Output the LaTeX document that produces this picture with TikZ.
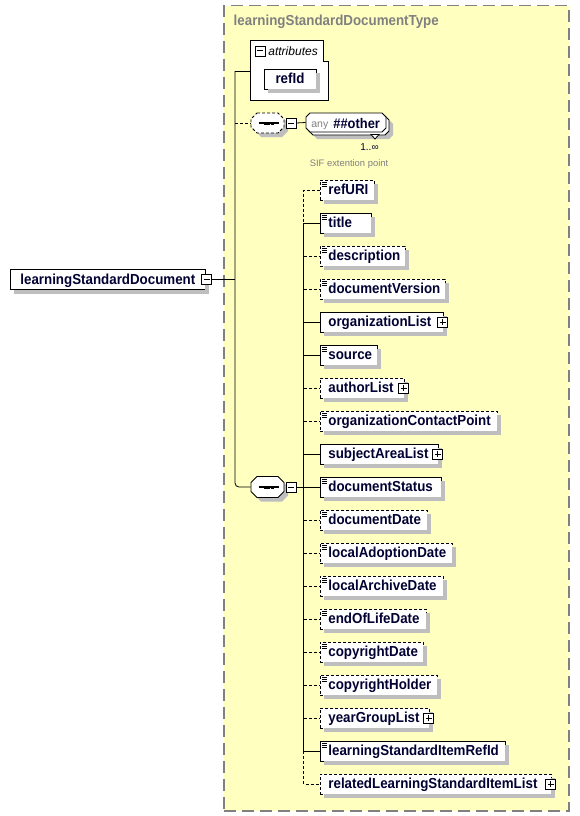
\documentclass[tikz,border=0pt]{standalone}
\usepackage{fontspec}
\setmainfont{Liberation Sans}
\newfontfamily\elfont[FakeStretch=0.92]{Liberation Sans}
\usetikzlibrary{calc}
\definecolor{txt}{RGB}{0,0,51}
\definecolor{bgy}{RGB}{255,255,192}
\definecolor{brd}{RGB}{128,128,128}
\definecolor{shadowgray}{RGB}{190,190,190}
\newcommand\boxw[2]{\makebox[\dimexpr #1pt-16pt\relax][l]{#2}}
\newcommand\octo[5]{(#1-#3+#5,#2-#4) -- (#1+#3-#5,#2-#4) -- (#1+#3,#2-#4+#5) -- (#1+#3,#2+#4-#5) -- (#1+#3-#5,#2+#4) -- (#1-#3+#5,#2+#4) -- (#1-#3,#2+#4-#5) -- (#1-#3,#2-#4+#5) -- cycle}
\newcommand\seqdots[2]{%
  \draw[line width=1.2pt] (#1-10,#2) -- (#1+10,#2);
  \fill (#1-5,#2-1.5) rectangle (#1-2,#2+1.5);
  \fill (#1-1.5,#2-1.5) rectangle (#1+1.5,#2+1.5);
  \fill (#1+2,#2-1.5) rectangle (#1+5,#2+1.5);}
% shadow strip of a box (drawn on top, outside the box): left x, centre y, width
\newcommand\mkshadow[3]{\draw[draw=shadowgray, line width=4pt, line cap=butt, line join=miter, solid] (#1+#3+2.4,#2-6) -- (#1+#3+2.4,#2+12.4) -- (#1+4,#2+12.4);}
\begin{document}
\begin{tikzpicture}[x=1pt,y=-1pt,line width=0.8pt,
  efont/.style={font={\elfont\bfseries\fontsize{14.5}{16}\selectfont}},
  elem/.style={draw, fill=white, inner xsep=8pt, inner ysep=0pt, minimum height=20pt,
    text height=12pt, text depth=3pt, anchor=west, efont, text=txt},
  opt/.style={dash pattern=on 3pt off 2pt},
  simple/.style={path picture={\foreach \k in {2.5,4.5,6.5}{\draw[solid,line width=0.7pt,black] ([xshift=1.5pt,yshift=-\k pt]path picture bounding box.north west) -- ++(5,0);}}},
  pmbox/.style={draw, solid, fill=white, minimum size=10pt, inner sep=0pt},
  plus/.style={pmbox, path picture={\draw[solid,line width=1pt] ([xshift=2pt]path picture bounding box.west) -- ([xshift=-2pt]path picture bounding box.east); \draw[solid,line width=1pt] ([yshift=-2pt]path picture bounding box.north) -- ([yshift=2pt]path picture bounding box.south);}},
  minus/.style={pmbox, path picture={\draw[solid,line width=1pt] ([xshift=2pt]path picture bounding box.west) -- ([xshift=-2pt]path picture bounding box.east);}},
  anchorbox/.style={inner sep=0pt, draw=none}
]
\useasboundingbox (0,0) rectangle (579,816);
% frame
\node[draw=brd, fill=bgy, line width=1.5pt, dash pattern=on 12pt off 6pt, minimum width=345pt, minimum height=805pt, anchor=north west, inner sep=0pt] (frame) at (223,5) {};
\node[anchor=base west, text=brd, efont] (ttl) at (230,26) {learningStandardDocumentType};

% attributes
\draw[fill=white] (250,40) -- (323,40) -- (323,61) -- (328,61) -- (328,100) -- (250,100) -- cycle;
\node[anchorbox, minimum width=78pt, minimum height=60pt, anchor=north west] (attr) at (250,40) {};
\coordinate (attrW) at (250,71);
\node[minus] (attrm) at (260,51) {};
\node[anchor=base west, inner sep=0pt, font={\itshape\fontsize{12}{14}\selectfont}] (attrl) at (268,55.5) {attributes};
\node[elem, anchor=center, minimum width=52pt, inner xsep=0pt] (refId) at (290,79) {refId};
\mkshadow{264}{79}{52}

% left element
\node[elem, inner xsep=10pt] (lsd) at (10,279.5) {\makebox[175pt][l]{learningStandardDocument}};
\mkshadow{10}{279.5}{195}
\node[minus] (lsdm) at ([xshift=1pt]lsd.east) {};
\coordinate (bus0) at (235,279.5);
\draw (lsdm.east) -- (bus0);

% sequence 1 (optional)
\node[anchorbox, minimum width=33pt, minimum height=20pt] (seq1) at (267.5,123) {};
\fill[shadowgray] \octo{271.5}{127}{16.5}{10}{6};
\draw[opt, fill=white] \octo{267.5}{123}{16.5}{10}{6};
\seqdots{268.5}{123}
\node[minus] (seq1m) at (291,123) {};

% any
\node[anchorbox, minimum width=80pt, minimum height=19pt] (any) at (346,122.5) {};
\fill[shadowgray] \octo{353}{129.5}{40}{9.5}{4};
\draw[fill=white] \octo{349}{125.5}{40}{9.5}{4};
\draw[fill=white] (371,134.5) -- (379,134.5) -- (375,139) -- cycle;
\draw[fill=white] \octo{346}{122.5}{40}{9.5}{4};
\node[anchor=base west, inner sep=0pt, text=brd, font={\fontsize{10.5}{12}\selectfont}] (anyl) at (311,127.5) {any};
\node[anchor=base west, inner sep=0pt, text=txt, font={\elfont\bfseries\fontsize{14}{16}\selectfont}] (other) at (333,128) {\#\#other};
\node[anchor=base west, inner sep=0pt, text=txt, font={\fontsize{10}{12}\selectfont}] (mult) at (360,150) {1..∞};
\node[anchor=base, inner sep=0pt, text=brd, font={\fontsize{9.4}{11}\selectfont}] (sif) at (349,166) {SIF extention point};
\draw (seq1m.east) -- (any.west);

% sequence 2
\node[anchorbox, minimum width=33pt, minimum height=21pt] (seq2) at (267.5,487) {};
\fill[shadowgray] \octo{271.5}{491}{16.5}{10.5}{6};
\draw[fill=white] \octo{267.5}{487}{16.5}{10.5}{6};
\seqdots{268.5}{487}
\node[minus] (seq2m) at (291,487.5) {};
\coordinate (bus) at (303.5,487.5);
\draw (seq2m.east) -- (bus);

% left bus
\draw (attrW -| bus0) -- (attrW);
\draw[rounded corners=4pt] (attrW -| bus0) -- (seq2.west -| bus0) -- (seq2.west);
\draw[opt] (seq1.west -| bus0) -- (seq1.west);

% elements
\node[elem,opt,simple] (refURI) at (320,190) {\boxw{54}{refURI}};
\node[elem,simple] (title) at (320,223) {\boxw{51}{title}};
\node[elem,opt,simple] (description) at (320,256) {\boxw{85}{description}};
\node[elem,opt,simple] (documentVersion) at (320,289) {\boxw{125}{documentVersion}};
\node[elem] (organizationList) at (320,322) {\boxw{123}{organizationList}};
\node[elem,simple] (source) at (320,355) {\boxw{57}{source}};
\node[elem,opt] (authorList) at (320,388) {\boxw{84}{authorList}};
\node[elem,opt,simple] (organizationContactPoint) at (320,421) {\boxw{177}{organizationContactPoint}};
\node[elem] (subjectAreaList) at (320,454) {\boxw{118}{subjectAreaList}};
\node[elem,simple] (documentStatus) at (320,487) {\boxw{121}{documentStatus}};
\node[elem,opt,simple] (documentDate) at (320,520) {\boxw{107}{documentDate}};
\node[elem,opt,simple] (localAdoptionDate) at (320,553) {\boxw{132}{localAdoptionDate}};
\node[elem,opt,simple] (localArchiveDate) at (320,586) {\boxw{123}{localArchiveDate}};
\node[elem,opt,simple] (endOfLifeDate) at (320,619) {\boxw{106}{endOfLifeDate}};
\node[elem,opt,simple] (copyrightDate) at (320,652) {\boxw{103}{copyrightDate}};
\node[elem,opt,simple] (copyrightHolder) at (320,685) {\boxw{117}{copyrightHolder}};
\node[elem,opt] (yearGroupList) at (320,718) {\boxw{109}{yearGroupList}};
\node[elem,simple] (lsiRefId) at (320,751) {\boxw{185}{learningStandardItemRefId}};
\node[elem,opt] (relList) at (320,784) {\boxw{231}{relatedLearningStandardItemList}};

% element shadows
\mkshadow{320}{190}{54}
\mkshadow{320}{223}{51}
\mkshadow{320}{256}{85}
\mkshadow{320}{289}{125}
\mkshadow{320}{322}{123}
\mkshadow{320}{355}{57}
\mkshadow{320}{388}{84}
\mkshadow{320}{421}{177}
\mkshadow{320}{454}{118}
\mkshadow{320}{487}{121}
\mkshadow{320}{520}{107}
\mkshadow{320}{553}{132}
\mkshadow{320}{586}{123}
\mkshadow{320}{619}{106}
\mkshadow{320}{652}{103}
\mkshadow{320}{685}{117}
\mkshadow{320}{718}{109}
\mkshadow{320}{751}{185}
\mkshadow{320}{784}{231}

% expand boxes
\node[plus] (organizationListP) at ([xshift=-1pt]organizationList.east) {};
\node[plus] (authorListP) at ([xshift=-1pt]authorList.east) {};
\node[plus] (subjectAreaListP) at ([xshift=-1pt]subjectAreaList.east) {};
\node[plus] (yearGroupListP) at ([xshift=-1pt]yearGroupList.east) {};
\node[plus] (relListP) at ([xshift=-1pt]relList.east) {};

% right bus
\draw[opt] (refURI.west) -- (refURI.west -| bus) -- (title.west -| bus);
\draw (title.west -| bus) -- (lsiRefId.west -| bus);
\draw[opt] (lsiRefId.west -| bus) -- (relList.west -| bus) -- (relList.west);
\draw (title.west -| bus) -- (title.west);
\draw[opt] (description.west -| bus) -- (description.west);
\draw[opt] (documentVersion.west -| bus) -- (documentVersion.west);
\draw (organizationList.west -| bus) -- (organizationList.west);
\draw (source.west -| bus) -- (source.west);
\draw[opt] (authorList.west -| bus) -- (authorList.west);
\draw[opt] (organizationContactPoint.west -| bus) -- (organizationContactPoint.west);
\draw (subjectAreaList.west -| bus) -- (subjectAreaList.west);
\draw (documentStatus.west -| bus) -- (documentStatus.west);
\draw[opt] (documentDate.west -| bus) -- (documentDate.west);
\draw[opt] (localAdoptionDate.west -| bus) -- (localAdoptionDate.west);
\draw[opt] (localArchiveDate.west -| bus) -- (localArchiveDate.west);
\draw[opt] (endOfLifeDate.west -| bus) -- (endOfLifeDate.west);
\draw[opt] (copyrightDate.west -| bus) -- (copyrightDate.west);
\draw[opt] (copyrightHolder.west -| bus) -- (copyrightHolder.west);
\draw[opt] (yearGroupList.west -| bus) -- (yearGroupList.west);
\draw (lsiRefId.west -| bus) -- (lsiRefId.west);
\end{tikzpicture}
\end{document}
